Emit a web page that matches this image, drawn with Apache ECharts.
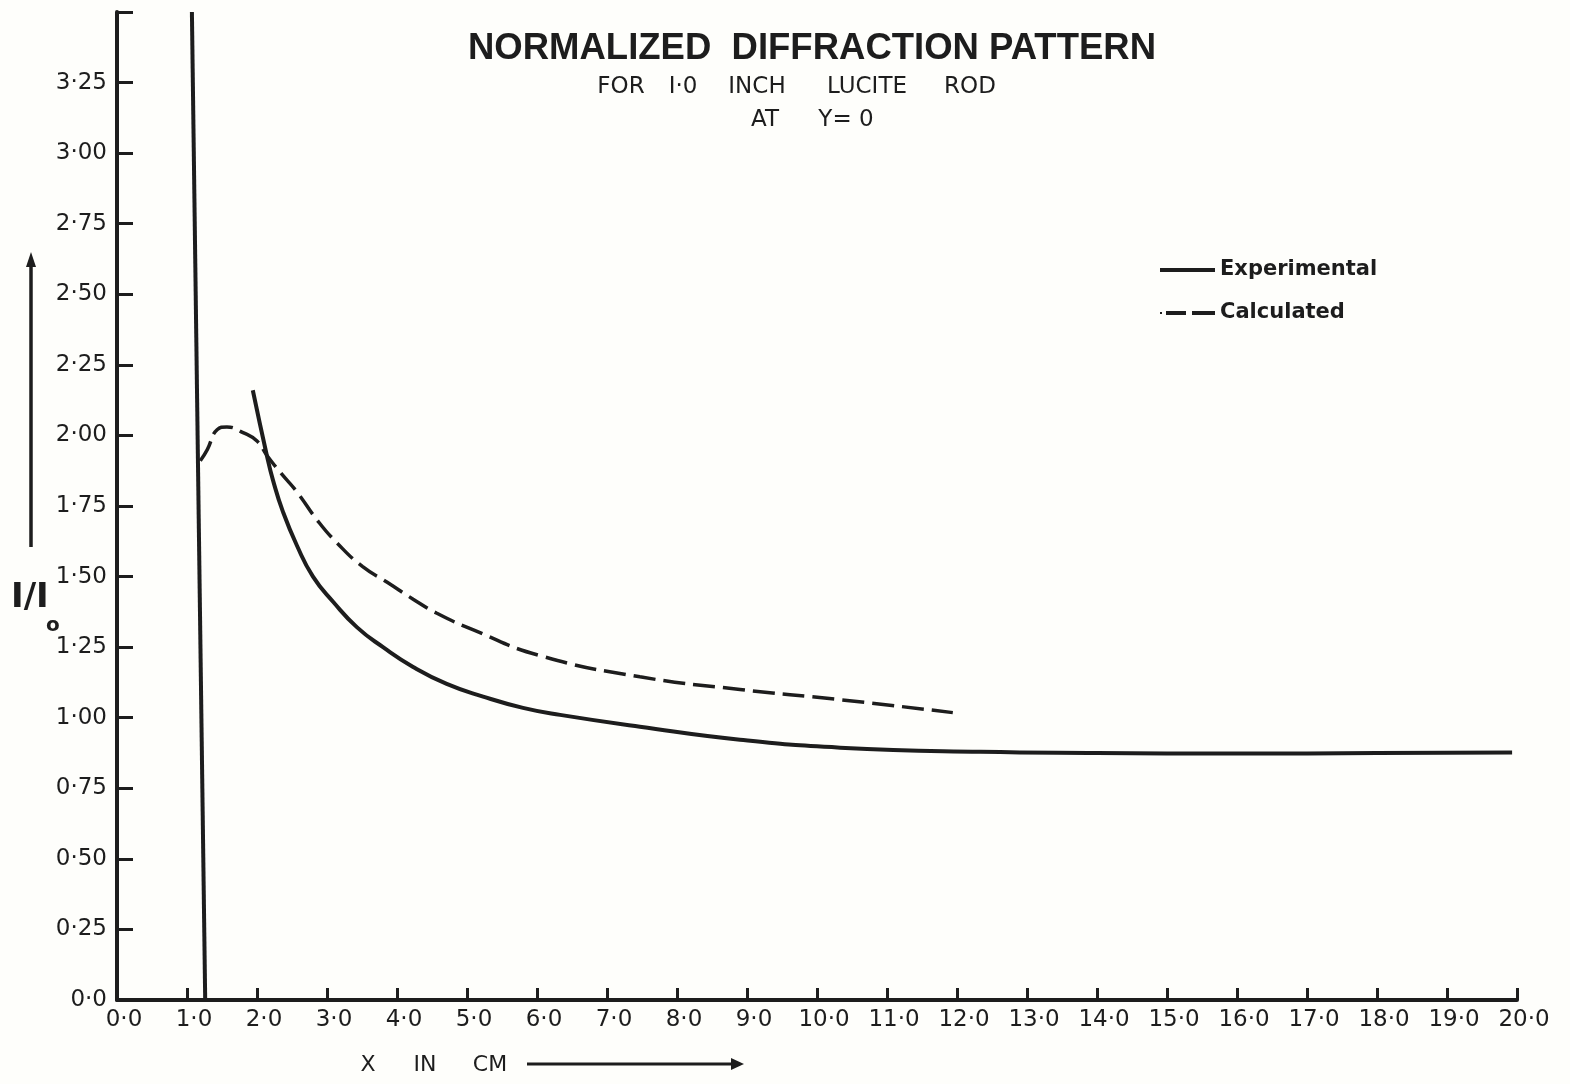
<!DOCTYPE html>
<html>
<head>
<meta charset="utf-8">
<script src="https://cdn.jsdelivr.net/npm/echarts@6/dist/echarts.min.js"></script>
<style>
html,body{margin:0;padding:0;background:#fefefb;}
#chart{width:1570px;height:1084px;}
</style>
</head>
<body>
<div id="chart"></div>
<script>
// ---- data ----
var xTickLabels = ['0·0','1·0','2·0','3·0','4·0','5·0','6·0','7·0','8·0','9·0','10·0','11·0','12·0','13·0','14·0','15·0','16·0','17·0','18·0','19·0','20·0'];
var yTickLabels = ['0·0','0·25','0·50','0·75','1·00','1·25','1·50','1·75','2·00','2·25','2·50','2·75','3·00','3·25',''];

var expX = [1.94, 2.14, 2.23, 2.37, 2.57, 2.80, 3.09, 3.43, 3.80, 4.23, 4.71, 5.23, 5.80, 6.33, 7.47, 8.90, 10.33, 12.33, 14.0, 16.0, 18.0, 19.93];
var expY = [2.16, 1.93, 1.84, 1.73, 1.61, 1.50, 1.41, 1.32, 1.25, 1.18, 1.12, 1.075, 1.035, 1.01, 0.968, 0.922, 0.894, 0.879, 0.875, 0.873, 0.875, 0.877];

var calcX = [1.19, 1.29, 1.43, 1.57, 1.80, 2.00, 2.14, 2.33, 2.57, 2.86, 3.14, 3.51, 3.86, 4.23, 4.57, 5.10, 6.04, 7.47, 8.90, 10.33, 11.94];
var calcY = [1.91, 1.95, 2.02, 2.03, 2.01, 1.98, 1.93, 1.87, 1.80, 1.70, 1.62, 1.535, 1.48, 1.42, 1.37, 1.31, 1.22, 1.145, 1.10, 1.064, 1.018];

var edgeX = [1.07, 1.26];
var edgeY = [3.5, 0];

function zip(a, b) { return a.map(function (v, i) { return [v, b[i]]; }); }

var INK = '#1d1d1d';
var chart = echarts.init(document.getElementById('chart'));
var option = {
  backgroundColor: '#fefefb',
  animation: false,
  grid: { left: 117, top: 12, width: 1400, height: 988, containLabel: false },
  legend: {
    data: [
      { name: 'Experimental', icon: 'path://M0,0H55V4H0Z' },
      { name: 'Calculated', icon: 'path://M0,1H2V3H0Z M6,0H26V4H6Z M32,0H55V4H32Z' }
    ],
    orient: 'vertical',
    left: 1160, top: 258,
    itemWidth: 55, itemHeight: 4, itemGap: 19,
    padding: 0,
    itemStyle: { color: INK },
    textStyle: { fontFamily: 'DejaVu Sans', fontWeight: 'bold', fontSize: 21, lineHeight: 24, color: INK }
  },
  xAxis: {
    type: 'value', min: 0, max: 20, interval: 1,
    axisLine: { lineStyle: { color: INK, width: 4 } },
    axisTick: { inside: true, length: 12, lineStyle: { color: INK, width: 3 } },
    splitLine: { show: false },
    axisLabel: {
      margin: 9, fontFamily: 'DejaVu Sans', fontSize: 23, color: INK, padding: [0, 0, 0, 14],
      formatter: function (v) { return xTickLabels[Math.round(v)]; }
    }
  },
  yAxis: {
    type: 'value', min: 0, max: 3.5, interval: 0.25,
    axisLine: { lineStyle: { color: INK, width: 4 } },
    axisTick: { inside: true, length: 16, lineStyle: { color: INK, width: 3 } },
    splitLine: { show: false },
    axisLabel: {
      margin: 10, fontFamily: 'DejaVu Sans', fontSize: 23, color: INK,
      formatter: function (v) { return yTickLabels[Math.round(v / 0.25)]; }
    }
  },
  series: [
    {
      name: 'Experimental', type: 'line', symbol: 'none', smooth: 0.5,
      data: zip(expX, expY),
      lineStyle: { color: INK, width: 4 }, itemStyle: { color: INK }
    },
    {
      name: 'Calculated', type: 'line', symbol: 'none', smooth: 0.5,
      data: zip(calcX, calcY),
      lineStyle: { color: INK, width: 3.5, type: [22, 8] }, itemStyle: { color: INK }
    },
    {
      name: 'edge', type: 'line', symbol: 'none',
      data: zip(edgeX, edgeY),
      lineStyle: { color: INK, width: 4 }
    }
  ],
  graphic: [
    { type: 'text', x: 812, y: 49, style: { text: 'NORMALIZED  DIFFRACTION PATTERN', fill: INK, font: 'bold 36.5px "Liberation Sans"', textAlign: 'center', textVerticalAlign: 'middle' } },
    { type: 'text', x: 621, y: 87, style: { text: 'FOR', fill: INK, font: '23px "DejaVu Sans"', textAlign: 'center', textVerticalAlign: 'middle' } },
    { type: 'text', x: 683, y: 87, style: { text: 'I·0', fill: INK, font: '23px "DejaVu Sans"', textAlign: 'center', textVerticalAlign: 'middle' } },
    { type: 'text', x: 757, y: 87, style: { text: 'INCH', fill: INK, font: '23px "DejaVu Sans"', textAlign: 'center', textVerticalAlign: 'middle' } },
    { type: 'text', x: 867, y: 87, style: { text: 'LUCITE', fill: INK, font: '23px "DejaVu Sans"', textAlign: 'center', textVerticalAlign: 'middle' } },
    { type: 'text', x: 970, y: 87, style: { text: 'ROD', fill: INK, font: '23px "DejaVu Sans"', textAlign: 'center', textVerticalAlign: 'middle' } },
    { type: 'text', x: 765, y: 120, style: { text: 'AT', fill: INK, font: '23px "DejaVu Sans"', textAlign: 'center', textVerticalAlign: 'middle' } },
    { type: 'text', x: 846, y: 120, style: { text: 'Y= 0', fill: INK, font: '23px "DejaVu Sans"', textAlign: 'center', textVerticalAlign: 'middle' } },
    // y axis name with arrow
    { type: 'line', shape: { x1: 31, y1: 547, x2: 31, y2: 262 }, style: { stroke: INK, lineWidth: 3.5 } },
    { type: 'polygon', shape: { points: [[31, 252], [26, 267], [36, 267]] }, style: { fill: INK } },
    { type: 'text', x: 11, y: 598, style: { text: 'I/I', fill: INK, font: 'bold 34px "DejaVu Sans"', textAlign: 'left', textVerticalAlign: 'middle' } },
    { type: 'text', x: 46, y: 626, style: { text: 'o', fill: INK, font: 'bold 20px "DejaVu Sans"', textAlign: 'left', textVerticalAlign: 'middle' } },
    // x axis name with arrow
    { type: 'text', x: 368, y: 1065, style: { text: 'X', fill: INK, font: '22px "DejaVu Sans"', textAlign: 'center', textVerticalAlign: 'middle' } },
    { type: 'text', x: 425, y: 1065, style: { text: 'IN', fill: INK, font: '22px "DejaVu Sans"', textAlign: 'center', textVerticalAlign: 'middle' } },
    { type: 'text', x: 490, y: 1065, style: { text: 'CM', fill: INK, font: '22px "DejaVu Sans"', textAlign: 'center', textVerticalAlign: 'middle' } },
    { type: 'line', shape: { x1: 527, y1: 1064, x2: 734, y2: 1064 }, style: { stroke: INK, lineWidth: 3 } },
    { type: 'polygon', shape: { points: [[744, 1064], [731, 1058], [731, 1070]] }, style: { fill: INK } }
  ]
};
chart.setOption(option);
</script>
</body>
</html>
